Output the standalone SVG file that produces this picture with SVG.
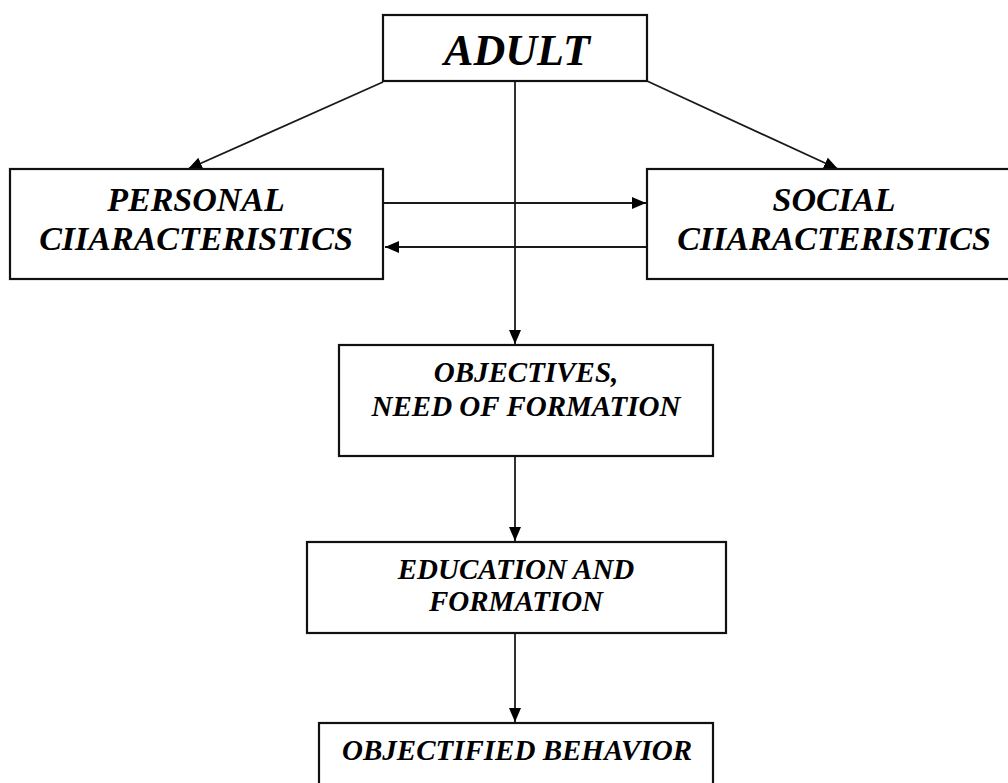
<svg xmlns="http://www.w3.org/2000/svg" width="1008" height="783" viewBox="0 0 1008 783">
  <style>
    .box { fill: #ffffff; stroke: #111111; stroke-width: 2.2; }
    .lbl { font-family: "Liberation Serif", "Times New Roman", serif; font-weight: bold; font-style: italic; fill: #000000; text-anchor: middle; }
    .edge { stroke: #1a1a1a; stroke-width: 1.8; fill: none; marker-end: url(#head); }
  </style>
  <defs>
    <marker id="head" markerUnits="userSpaceOnUse" markerWidth="15" markerHeight="13" refX="14" refY="6" orient="auto">
      <path d="M0,0 L14,6 L0,12 Z" fill="#000000"/>
    </marker>
  </defs>
  <rect width="1008" height="783" fill="#ffffff"/>

  <g id="connectors">
    <line class="edge" x1="383" y1="82" x2="188" y2="169"/>
    <line class="edge" x1="647" y1="81" x2="838" y2="169"/>
    <line class="edge" x1="384" y1="203" x2="646" y2="203"/>
    <line class="edge" x1="647" y1="247" x2="385" y2="247"/>
    <line class="edge" x1="515" y1="81" x2="515" y2="344"/>
    <line class="edge" x1="515" y1="456" x2="515" y2="541"/>
    <line class="edge" x1="515" y1="633" x2="515" y2="722"/>
  </g>

  <g id="adult">
    <rect class="box" x="383" y="15" width="264" height="66"/>
    <text class="lbl" x="517" y="65" font-size="44">ADULT</text>
  </g>

  <g id="personal">
    <rect class="box" x="10" y="169" width="373" height="110"/>
    <text class="lbl" x="196" y="211" font-size="34">PERSONAL</text>
    <text class="lbl" x="196" y="250" font-size="34">CIIARACTERISTICS</text>
  </g>

  <g id="social">
    <rect class="box" x="647" y="169" width="375" height="110"/>
    <text class="lbl" x="834" y="211" font-size="34">SOCIAL</text>
    <text class="lbl" x="834" y="250" font-size="34">CIIARACTERISTICS</text>
  </g>

  <g id="objectives">
    <rect class="box" x="339" y="345" width="374" height="111"/>
    <text class="lbl" x="526" y="382" font-size="29">OBJECTIVES,</text>
    <text class="lbl" x="526" y="416" font-size="29">NEED OF FORMATION</text>
  </g>

  <g id="education">
    <rect class="box" x="307" y="542" width="419" height="91"/>
    <text class="lbl" x="516" y="579" font-size="29">EDUCATION AND</text>
    <text class="lbl" x="516" y="611" font-size="29">FORMATION</text>
  </g>

  <g id="behavior">
    <rect class="box" x="319" y="723" width="394" height="80"/>
    <text class="lbl" x="517" y="760" font-size="29">OBJECTIFIED BEHAVIOR</text>
  </g>
</svg>
